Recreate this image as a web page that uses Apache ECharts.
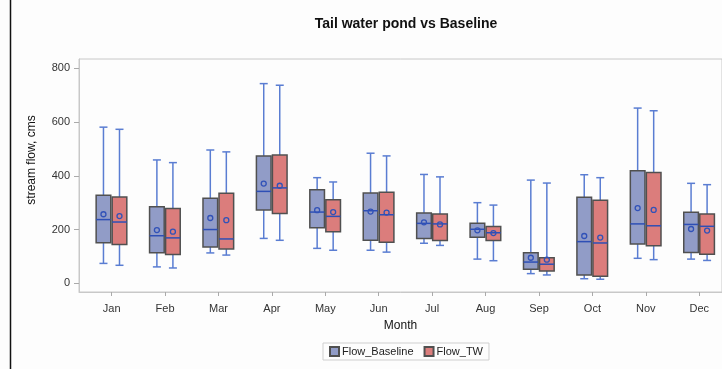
<!DOCTYPE html>
<html>
<head>
<meta charset="utf-8">
<script src="https://cdn.jsdelivr.net/npm/echarts@6/dist/echarts.min.js"></script>
<style>
  html, body { margin: 0; padding: 0; background: #fdfdfd; }
  #chart { width: 722px; height: 369px; }
</style>
</head>
<body>
<div id="chart"></div>
<script>
// Month categories and y-axis tick values
const months = ['Jan', 'Feb', 'Mar', 'Apr', 'May', 'Jun', 'Jul', 'Aug', 'Sep', 'Oct', 'Nov', 'Dec'];
const yTicks = [0, 200, 400, 600, 800];

// Five-number summaries per month: [min whisker, Q1, median, Q3, max whisker]
const baselineBox = [
  [74, 151, 237, 328, 581],
  [61, 114, 177, 285, 459],
  [113, 135, 200, 316, 496],
  [167, 273, 342, 474, 743],
  [130, 207, 265, 348, 393],
  [123, 160, 270, 336, 484],
  [149, 167, 223, 262, 405],
  [90, 171, 201, 223, 300],
  [36, 52, 79, 114, 384],
  [17, 31, 155, 320, 404],
  [93, 146, 221, 419, 652],
  [90, 115, 219, 264, 372]
];
const baselineMean = [257, 198, 243, 371, 272, 267, 227, 197, 95, 176, 280, 202];

const twBox = [
  [67, 144, 228, 321, 573],
  [57, 107, 169, 278, 449],
  [105, 128, 165, 335, 489],
  [160, 260, 355, 477, 737],
  [123, 192, 249, 311, 377],
  [116, 153, 255, 339, 474],
  [141, 159, 221, 258, 396],
  [84, 159, 188, 211, 291],
  [31, 46, 71, 95, 373],
  [15, 26, 150, 309, 393],
  [88, 140, 214, 412, 642],
  [85, 108, 212, 258, 367]
];
const twMean = [250, 192, 235, 363, 265, 263, 219, 187, 88, 170, 273, 196];

function rows(box, mean) {
  return box.map((b, i) => [i].concat(b, [mean[i]]));
}

const whiskerColor = '#5a7dd2';
const medianColor = '#2e4fb5';
const meanColor = '#3152b8';
const edgeColor = '#505050';

// Draws one box with whiskers, median bar and mean marker, shifted inside the month band
function boxRenderer(shift) {
  return function (params, api) {
    const i = api.value(0);
    const band = api.size([1, 0])[0];
    const cx = api.coord([i, 0])[0] + shift * band;
    const half = band * 0.137;
    const cap = band * 0.075;
    const py = k => api.coord([i, api.value(k)])[1];
    const yLow = py(1), yQ1 = py(2), yMed = py(3), yQ3 = py(4), yHigh = py(5), yMean = py(6);
    const line = (x1, y1, x2, y2, color, w) => ({
      type: 'line',
      shape: { x1, y1, x2, y2 },
      style: { stroke: color, lineWidth: w }
    });
    return {
      type: 'group',
      children: [
        line(cx, yQ1, cx, yLow, whiskerColor, 1.5),
        line(cx, yQ3, cx, yHigh, whiskerColor, 1.5),
        line(cx - cap, yLow, cx + cap, yLow, whiskerColor, 1.5),
        line(cx - cap, yHigh, cx + cap, yHigh, whiskerColor, 1.5),
        {
          type: 'rect',
          shape: { x: cx - half, y: yQ3, width: half * 2, height: yQ1 - yQ3 },
          style: { fill: api.visual('color'), stroke: edgeColor, lineWidth: 1.5 }
        },
        line(cx - half, yMed, cx + half, yMed, medianColor, 1.5),
        {
          type: 'circle',
          shape: { cx: cx, cy: yMean, r: 2.5 },
          style: { fill: 'none', stroke: meanColor, lineWidth: 1.3 }
        }
      ]
    };
  };
}

const chart = echarts.init(document.getElementById('chart'), null, { renderer: 'canvas' });
const font = 'Liberation Sans, Arial, sans-serif';

chart.setOption({
  backgroundColor: '#fdfdfd',
  animation: false,
  textStyle: { fontFamily: font },
  title: {
    text: 'Tail water pond vs Baseline',
    left: 401,
    textAlign: 'center',
    top: 12,
    textStyle: { fontSize: 14, fontWeight: 'bold', color: '#111', fontFamily: font }
  },
  legend: {
    left: 323,
    top: 343,
    icon: 'rect',
    itemWidth: 9,
    itemHeight: 9,
    itemGap: 10,
    padding: [3, 6],
    borderColor: '#cfcfcf',
    borderWidth: 1,
    textStyle: { fontSize: 11, color: '#222', fontFamily: font, padding: [0, 0, 0, -2] },
    data: ['Flow_Baseline', 'Flow_TW']
  },
  graphic: [{
    type: 'line',
    shape: { x1: 10.5, y1: 0, x2: 10.5, y2: 369 },
    style: { stroke: '#111', lineWidth: 1.5 }
  }],
  grid: {
    left: 79,
    right: -1,
    top: 59,
    bottom: 77,
    show: true,
    borderColor: '#c8c8c8',
    borderWidth: 1
  },
  xAxis: {
    type: 'value',
    min: -0.611,
    max: 11.426,
    name: 'Month',
    nameLocation: 'middle',
    nameGap: 28,
    nameTextStyle: { fontSize: 12, color: '#111', fontFamily: font },
    splitLine: { show: false },
    axisLine: { show: true, onZero: false, lineStyle: { color: '#c8c8c8' } },
    axisTick: { show: true, length: 4, lineStyle: { color: '#aaa' }, customValues: months.map((m, i) => i) },
    axisLabel: {
      customValues: months.map((m, i) => i),
      formatter: v => months[v],
      fontSize: 11,
      color: '#333',
      margin: 11
    }
  },
  yAxis: {
    type: 'value',
    min: -32.4,
    max: 834.6,
    name: 'stream flow, cms',
    nameLocation: 'middle',
    nameGap: 41,
    nameTextStyle: { fontSize: 12, color: '#111', fontFamily: font, padding: [0, 0, 0, 31] },
    splitLine: { show: false },
    axisLine: { show: true, onZero: false, lineStyle: { color: '#c8c8c8' } },
    axisTick: { show: true, length: 5, lineStyle: { color: '#aaa' }, customValues: yTicks },
    axisLabel: { customValues: yTicks, fontSize: 11, color: '#333', margin: 9 }
  },
  series: [
    {
      name: 'Flow_Baseline',
      type: 'custom',
      renderItem: boxRenderer(-0.153),
      itemStyle: { color: '#919cc7', borderColor: edgeColor, borderWidth: 1 },
      encode: { x: 0, y: [1, 2, 3, 4, 5, 6] },
      data: rows(baselineBox, baselineMean)
    },
    {
      name: 'Flow_TW',
      type: 'custom',
      renderItem: boxRenderer(0.147),
      itemStyle: { color: '#db7d7c', borderColor: edgeColor, borderWidth: 1 },
      encode: { x: 0, y: [1, 2, 3, 4, 5, 6] },
      data: rows(twBox, twMean)
    }
  ]
});
</script>
</body>
</html>
